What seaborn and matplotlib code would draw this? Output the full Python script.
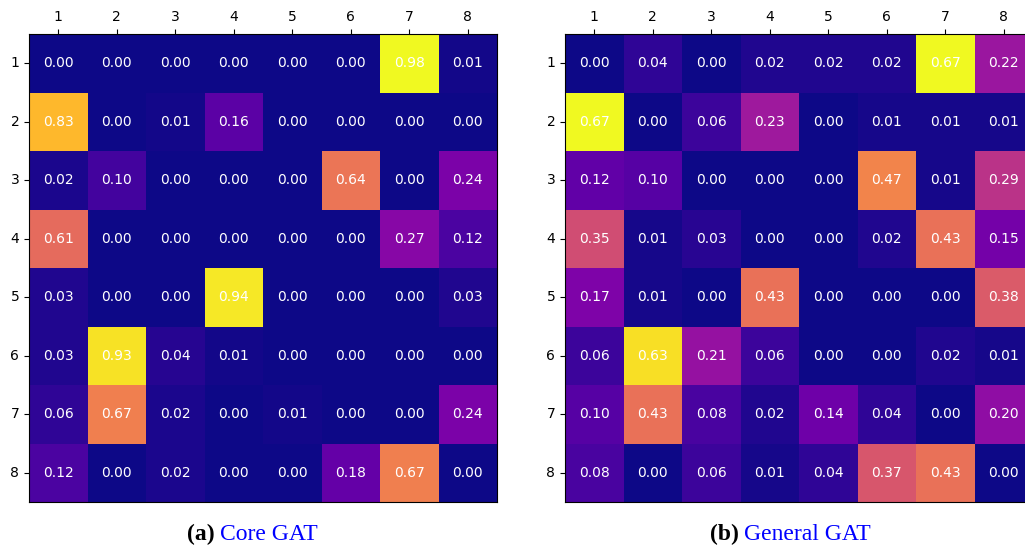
import numpy as np
import pandas as pd
import matplotlib
matplotlib.use("Agg")
import matplotlib.pyplot as plt
import seaborn as sns

labels = ["1", "2", "3", "4", "5", "6", "7", "8"]

core_gat = [
    [0.00, 0.00, 0.00, 0.00, 0.00, 0.00, 0.98, 0.01],
    [0.83, 0.00, 0.01, 0.16, 0.00, 0.00, 0.00, 0.00],
    [0.02, 0.10, 0.00, 0.00, 0.00, 0.64, 0.00, 0.24],
    [0.61, 0.00, 0.00, 0.00, 0.00, 0.00, 0.27, 0.12],
    [0.03, 0.00, 0.00, 0.94, 0.00, 0.00, 0.00, 0.03],
    [0.03, 0.93, 0.04, 0.01, 0.00, 0.00, 0.00, 0.00],
    [0.06, 0.67, 0.02, 0.00, 0.01, 0.00, 0.00, 0.24],
    [0.12, 0.00, 0.02, 0.00, 0.00, 0.18, 0.67, 0.00],
]

general_gat = [
    [0.00, 0.04, 0.00, 0.02, 0.02, 0.02, 0.67, 0.22],
    [0.67, 0.00, 0.06, 0.23, 0.00, 0.01, 0.01, 0.01],
    [0.12, 0.10, 0.00, 0.00, 0.00, 0.47, 0.01, 0.29],
    [0.35, 0.01, 0.03, 0.00, 0.00, 0.02, 0.43, 0.15],
    [0.17, 0.01, 0.00, 0.43, 0.00, 0.00, 0.00, 0.38],
    [0.06, 0.63, 0.21, 0.06, 0.00, 0.00, 0.02, 0.01],
    [0.10, 0.43, 0.08, 0.02, 0.14, 0.04, 0.00, 0.20],
    [0.08, 0.00, 0.06, 0.01, 0.04, 0.37, 0.43, 0.00],
]

captions = [("(a)", "Core GAT"), ("(b)", "General GAT")]

W, H = 1025, 548
fig = plt.figure(figsize=(W / 100, H / 100), dpi=100)

axes_px = [(29, 34), (565, 34)]
size_px = 468
caption_split = [217, 741]

for (x0, y0), data, (tag, name), xs in zip(axes_px, [core_gat, general_gat], captions, caption_split):
    ax = fig.add_axes([x0 / W, 1 - (y0 + size_px) / H, size_px / W, size_px / H])
    df = pd.DataFrame(data, index=labels, columns=labels)
    sns.heatmap(df, ax=ax, cmap="plasma", cbar=False, annot=True, fmt=".2f",
                annot_kws={"color": "white", "fontsize": 10}, square=False)
    ax.xaxis.tick_top()
    ax.tick_params(axis="both", labelsize=10, length=3.5, width=0.8, colors="black")
    ax.set_yticklabels(labels, rotation=0)
    ax.set_xticklabels(labels, rotation=0)
    for sp in ax.spines.values():
        sp.set_visible(True)
        sp.set_color("black")
        sp.set_linewidth(0.8)
    ax.set_xlabel("")
    ax.set_ylabel("")
    fig.text((xs - 2) / W, 1 - 534 / H, tag, ha="right", va="center",
             fontsize=17, fontweight="bold", family="Liberation Serif", color="black")
    fig.text((xs + 3) / W, 1 - 534 / H, name, ha="left", va="center",
             fontsize=17, family="Liberation Serif", color="#0000ff")

fig.savefig("out.png", dpi=100)
